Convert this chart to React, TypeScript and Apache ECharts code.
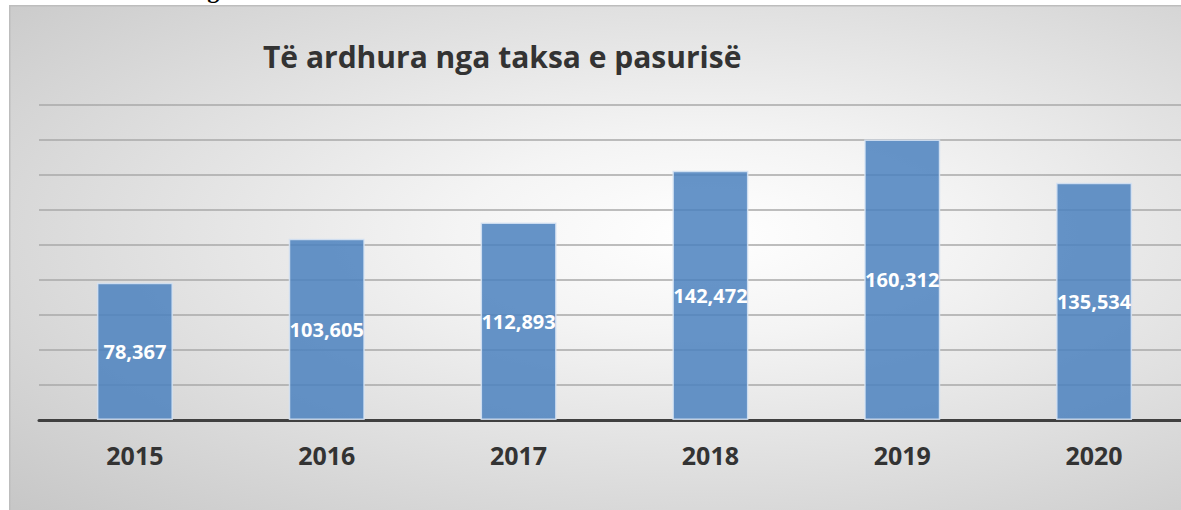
import React, { useEffect, useRef } from "react";
import * as echarts from "echarts";

const categories: string[] = ["2015", "2016", "2017", "2018", "2019", "2020"];
const values: number[] = [78367, 103605, 112893, 142472, 160312, 135534];
const titleText = "Të ardhura nga taksa e pasurisë";
const yMin = 0;
const yMax = 180000;
const yInterval = 20000;

export default function App() {
  const ref = useRef<HTMLDivElement | null>(null);

  useEffect(() => {
    if (!ref.current) return;
    const chart = echarts.init(ref.current, undefined, { renderer: "svg" });
    chart.setOption({
      animation: false,
      backgroundColor: "transparent",
      grid: { left: 30, right: 19, top: 100, bottom: 90, containLabel: false },
      graphic: [
        {
          type: "text",
          left: 254,
          top: 36,
          style: {
            text: titleText,
            fontFamily: "'Open Sans', sans-serif",
            fontWeight: "bold",
            fontSize: 30,
            fill: "#333333",
          },
        },
      ],
      xAxis: {
        type: "category",
        data: categories,
        axisTick: { show: false },
        axisLine: { show: true, lineStyle: { color: "#404040", width: 3 } },
        axisLabel: {
          margin: 22,
          color: "#333333",
          fontFamily: "'Open Sans', sans-serif",
          fontWeight: "bold",
          fontSize: 25,
        },
      },
      yAxis: {
        type: "value",
        min: yMin,
        max: yMax,
        interval: yInterval,
        axisLabel: { show: false },
        axisLine: { show: false },
        axisTick: { show: false },
        splitLine: { show: true, lineStyle: { color: "#a8a8a8", width: 1.5 } },
      },
      series: [
        {
          type: "bar",
          data: values,
          barWidth: 76,
          itemStyle: {
            color: "rgba(75,129,190,0.85)",
            borderColor: "rgba(215,228,244,0.85)",
            borderWidth: 1.5,
          },
          label: {
            show: true,
            position: "inside",
            color: "#ffffff",
            fontFamily: "'Open Sans', sans-serif",
            fontWeight: "bold",
            fontSize: 20,
            formatter: (p: any) => Number(p.value).toLocaleString("en-US"),
          },
        },
      ],
    });
    return () => chart.dispose();
  }, []);

  return (
    <div
      style={{
        position: "fixed",
        left: 0,
        top: 0,
        width: 1181,
        height: 510,
        overflow: "hidden",
        background: "#ffffff",
      }}
    >
      <span
        style={{
          position: "absolute",
          left: 194,
          top: -22,
          fontFamily: "'Liberation Serif', serif",
          fontWeight: "bold",
          fontSize: 24,
          lineHeight: "24px",
          color: "#000",
        }}
      >
        ng
      </span>
      <div
        style={{
          position: "absolute",
          left: 9,
          top: 5,
          width: 1200,
          height: 510,
          boxShadow: "inset 1.5px 1.5px 0 #bdbdbd",
          background:
            "radial-gradient(ellipse farthest-corner at 58% 45%, #ffffff 0%, #f4f4f4 25%, #c6c6c6 100%)",
        }}
      >
        <div ref={ref} style={{ position: "absolute", left: 0, top: 0, width: 1200, height: 505 }} />
      </div>
    </div>
  );
}
